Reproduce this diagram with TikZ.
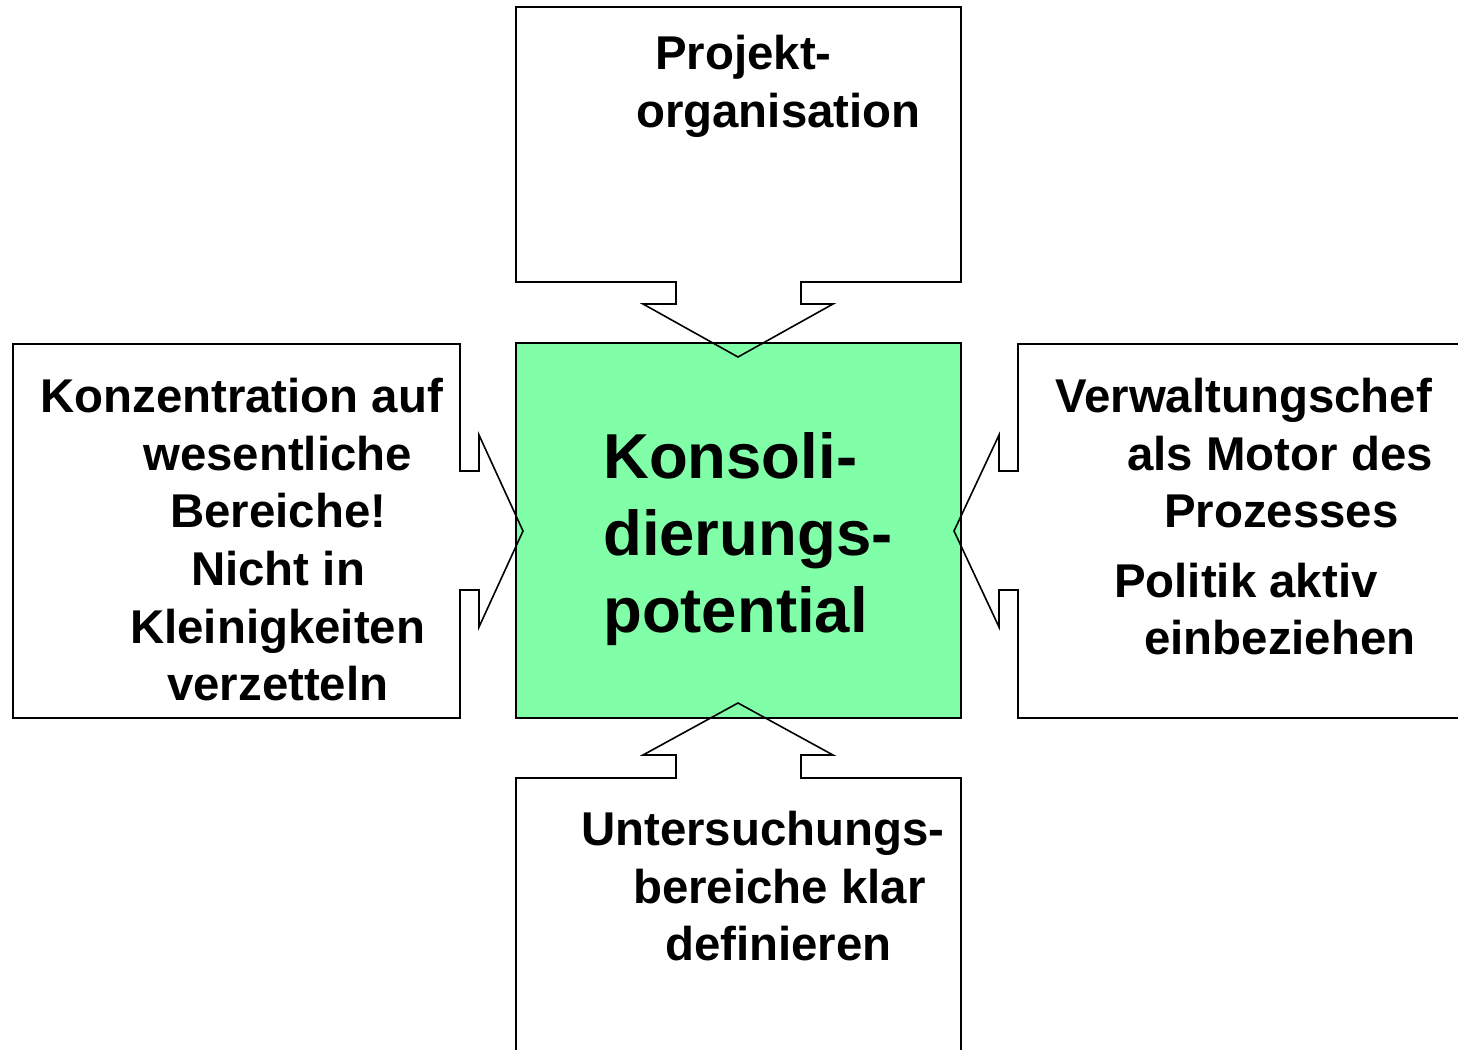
\documentclass[tikz,border=0pt]{standalone}
\usepackage{fontspec}
\setmainfont{Liberation Sans}
\definecolor{kgreen}{RGB}{128,255,168}
\tikzset{
  outline/.style={draw=black,line width=1.6pt,line join=miter},
  txt/.style={anchor=base west,inner sep=0pt,font=\bfseries\fontsize{47.4}{57}\selectfont},
  bigtxt/.style={anchor=base west,inner sep=0pt,font=\bfseries\fontsize{63.5}{77}\selectfont}
}
\begin{document}
\begin{tikzpicture}[x=1pt,y=-1pt]
\clip (0,0) rectangle (1458,1049);
\fill[white] (0,0) rectangle (1458,1049);
% centre box
\draw[outline,fill=kgreen] (516,343) rectangle (961,718);
% top callout
\draw[outline] (516,7) -- (961,7) -- (961,282) -- (801,282) -- (801,304) -- (833,304) -- (738,357)
  -- (643,304) -- (676,304) -- (676,282) -- (516,282) -- cycle;
% bottom callout
\draw[outline] (516,1060) -- (516,778) -- (676,778) -- (676,755) -- (643,755) -- (738,703)
  -- (833,755) -- (801,755) -- (801,778) -- (961,778) -- (961,1060);
% left callout
\draw[outline] (13,344) -- (460,344) -- (460,471) -- (479,471) -- (479,435) -- (523,531)
  -- (479,627) -- (479,590) -- (460,590) -- (460,718) -- (13,718) -- cycle;
% right callout
\draw[outline] (1470,344) -- (1018,344) -- (1018,471) -- (999,471) -- (999,435) -- (954,531)
  -- (999,627) -- (999,590) -- (1018,590) -- (1018,718) -- (1470,718);
% texts
\node[txt] (t1) at (655,70) {Projekt-};
\node[txt] (t2) at (636,127) {organisation};
\node[txt] (l1) at (40,412) {Konzentration auf};
\node[txt] (l2) at (143,470) {wesentliche};
\node[txt] (l3) at (170,527) {Bereiche!};
\node[txt] (l4) at (191,585) {Nicht in};
\node[txt] (l5) at (130,643) {Kleinigkeiten};
\node[txt] (l6) at (167,700) {verzetteln};
\node[txt] (r1) at (1055,412) {Verwaltungschef};
\node[txt] (r2) at (1127,470) {als Motor des};
\node[txt] (r3) at (1164,527) {Prozesses};
\node[txt] (r4) at (1114,597) {Politik aktiv};
\node[txt] (r5) at (1144,654) {einbeziehen};
\node[txt] (b1) at (581,845) {Untersuchungs-};
\node[txt] (b2) at (633,903) {bereiche klar};
\node[txt] (b3) at (665,960) {definieren};
\node[bigtxt] (c1) at (603,478) {Konsoli-};
\node[bigtxt] (c2) at (603,555) {dierungs-};
\node[bigtxt] (c3) at (603,632) {potential};
\end{tikzpicture}
\end{document}
